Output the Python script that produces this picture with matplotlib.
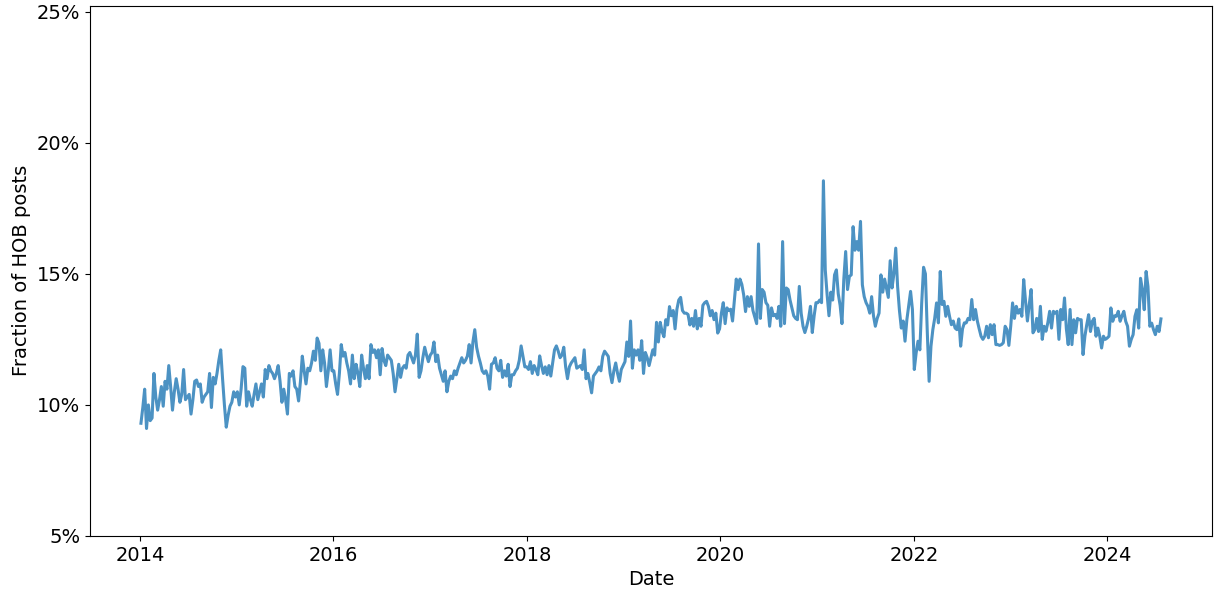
import matplotlib
matplotlib.use("Agg")
import matplotlib.pyplot as plt
from matplotlib.ticker import PercentFormatter
import pandas as pd

# weekly share of HOB posts (percent), one list per calendar year
hob_2014 = [9.3, 9.9, 10.6, 9.1, 10.0, 9.4, 9.5, 11.2, 10.3, 9.8, 10.2, 10.7, 9.95, 10.9, 10.6, 11.5,
            10.7, 9.8, 10.5, 11.0, 10.6, 10.1, 10.4, 11.35, 10.2, 10.3, 10.4, 9.65, 10.2, 10.9, 10.95, 10.7,
            10.8, 10.1, 10.3, 10.4, 10.5, 11.2, 9.9, 11.05, 10.8, 11.2, 11.7, 12.1, 11.0, 10.0, 9.15, 9.6,
            9.95, 10.1, 10.5, 10.3]
hob_2015 = [10.5, 10.0, 10.6, 11.46, 11.4, 9.95, 10.5, 10.2, 9.95, 10.4, 10.8, 10.2, 10.5, 10.8, 10.3, 11.35,
            11.0, 11.5, 11.3, 11.2, 11.0, 11.2, 11.5, 10.9, 10.1, 10.6, 10.2, 9.65, 11.2, 11.1, 11.3, 10.7,
            10.6, 10.15, 10.9, 11.86, 11.3, 10.8, 11.4, 11.3, 11.6, 12.05, 11.7, 12.55, 12.35, 11.3, 12.1, 11.6,
            10.7, 11.3, 12.1, 11.3]
hob_2016 = [11.3, 10.8, 10.4, 11.2, 12.3, 11.86, 12.0, 11.6, 11.3, 10.8, 11.9, 11.0, 11.55, 11.2, 10.7, 11.9,
            11.4, 11.0, 11.5, 11.0, 12.3, 12.0, 12.1, 11.8, 12.1, 11.15, 12.15, 11.7, 11.5, 11.9, 11.8, 11.7,
            11.2, 10.5, 11.0, 11.55, 11.05, 11.4, 11.5, 11.4, 11.9, 12.0, 11.8, 11.6, 11.9, 12.7, 11.05, 11.3,
            11.8, 12.2, 11.9, 11.65]
hob_2017 = [11.9, 12.0, 12.4, 11.65, 11.9, 11.4, 11.15, 10.9, 11.3, 10.5, 10.9, 11.1, 11.0, 11.3, 11.15, 11.4,
            11.6, 11.8, 11.6, 11.7, 11.86, 12.3, 11.6, 12.4, 12.87, 12.2, 11.86, 11.6, 11.3, 11.2, 11.3, 11.1,
            10.6, 11.55, 11.6, 11.8, 11.4, 11.3, 11.7, 11.05, 11.3, 11.1, 11.55, 10.7, 11.15, 11.15, 11.3, 11.4,
            11.7, 12.25, 11.85, 11.45]
hob_2018 = [11.45, 11.35, 11.65, 11.2, 11.5, 11.35, 11.15, 11.87, 11.5, 11.2, 11.45, 11.15, 11.5, 11.1, 11.6, 12.1,
            12.25, 12.05, 11.8, 11.9, 12.2, 11.45, 11.0, 11.45, 11.6, 11.7, 11.8, 11.4, 11.45, 11.5, 11.35, 12.1,
            11.0, 11.2, 10.85, 10.46, 11.1, 11.2, 11.3, 11.45, 11.3, 11.85, 12.05, 11.95, 11.85, 11.2, 10.85, 11.3,
            11.6, 11.2, 10.9, 11.35]
hob_2019 = [11.5, 11.65, 12.4, 11.85, 13.2, 11.4, 12.1, 11.9, 12.1, 11.7, 12.45, 11.2, 12.0, 11.8, 11.5, 11.8,
            12.1, 11.9, 13.15, 12.4, 13.15, 12.8, 12.6, 13.25, 13.05, 13.75, 13.4, 13.6, 12.9, 13.65, 14.0, 14.1,
            13.6, 13.5, 13.5, 13.45, 13.05, 13.3, 13.0, 13.6, 12.9, 13.3, 13.0, 13.8, 13.9, 13.95, 13.76, 13.4,
            13.6, 13.25, 13.5, 12.74]
hob_2020 = [12.9, 13.5, 13.9, 13.1, 13.7, 13.6, 13.65, 13.2, 14.0, 14.8, 14.4, 14.8, 14.6, 14.2, 13.56, 14.13,
            13.76, 14.13, 13.6, 13.35, 13.1, 16.14, 13.3, 14.4, 14.3, 13.9, 13.8, 13.0, 13.7, 13.4, 13.45, 13.3,
            13.76, 13.0, 16.23, 13.1, 14.46, 14.4, 14.0, 13.7, 13.4, 13.3, 13.25, 14.52, 13.5, 13.0, 12.76, 13.0,
            13.3, 13.76, 12.76, 13.4]
hob_2021 = [13.9, 13.9, 14.0, 13.9, 18.55, 15.15, 14.2, 13.4, 14.3, 14.0, 14.96, 15.15, 14.24, 13.8, 13.1, 14.8,
            15.85, 14.4, 14.9, 14.96, 16.8, 15.9, 16.23, 15.9, 17.0, 14.58, 14.13, 13.9, 13.76, 13.5, 14.13, 13.4,
            13.0, 13.3, 13.5, 14.96, 14.3, 14.8, 14.46, 14.1, 15.5, 14.46, 15.0, 15.98, 14.52, 13.6, 12.93, 13.2,
            12.43, 13.25, 13.8, 14.33]
hob_2022 = [13.64, 11.35, 11.98, 12.43, 12.1, 13.89, 15.25, 15.0, 12.8, 10.9, 12.24, 12.87, 13.3, 13.89, 13.13, 15.09,
            13.83, 13.95, 13.38, 13.76, 13.38, 13.06, 13.2, 12.93, 12.87, 13.28, 12.24, 12.9, 13.13, 13.13, 13.3, 13.25,
            14.02, 13.25, 13.64, 13.2, 12.9, 12.62, 12.5, 12.62, 13.0, 12.56, 13.06, 12.68, 13.06, 12.3, 12.3, 12.27,
            12.3, 12.37, 13.0, 12.87]
hob_2023 = [12.27, 13.0, 13.89, 13.3, 13.76, 13.5, 13.64, 13.38, 14.78, 13.95, 13.2, 13.83, 14.4, 12.75, 12.87, 13.3,
            12.8, 13.76, 12.5, 13.0, 12.81, 13.13, 13.57, 12.93, 13.57, 13.5, 13.57, 12.5, 13.64, 13.25, 14.08, 12.9,
            12.3, 13.64, 12.3, 13.25, 12.75, 13.3, 13.25, 13.25, 11.92, 12.62, 13.06, 13.44, 12.8, 13.19, 13.3, 12.62,
            12.93, 12.62, 12.17, 12.62]
hob_2024 = [12.5, 12.55, 12.62, 13.7, 13.19, 13.4, 13.38, 13.57, 13.19, 13.4, 13.57, 13.19, 13.0, 12.24, 12.5, 12.68,
            13.38, 13.63, 12.93, 14.83, 14.39, 13.63, 15.09, 14.52, 13.0, 13.12, 12.87, 12.68, 13.0, 12.8, 13.28]

pct = (hob_2014 + hob_2015 + hob_2016 + hob_2017 + hob_2018 + hob_2019
       + hob_2020 + hob_2021 + hob_2022 + hob_2023 + hob_2024)
weeks = pd.date_range("2014-01-05", periods=len(pct), freq="W")
frac = pd.Series(pct, index=weeks) / 100.0

fig = plt.figure(figsize=(12.14, 5.95), dpi=100)
ax = fig.add_axes([0.0741, 0.0992, 0.9242, 0.8913])
ax.plot(frac.index, frac.values, color="#1f77b4", alpha=0.8, linewidth=2.2)

ax.set_ylim(0.05, 0.2523)
ax.set_yticks([0.05, 0.10, 0.15, 0.20, 0.25])
ax.yaxis.set_major_formatter(PercentFormatter(1.0, decimals=0))
ax.tick_params(labelsize=14)
ax.set_xlabel("Date", fontsize=14)
ax.set_ylabel("Fraction of HOB posts", fontsize=14)

fig.savefig("out.png", dpi=100)
